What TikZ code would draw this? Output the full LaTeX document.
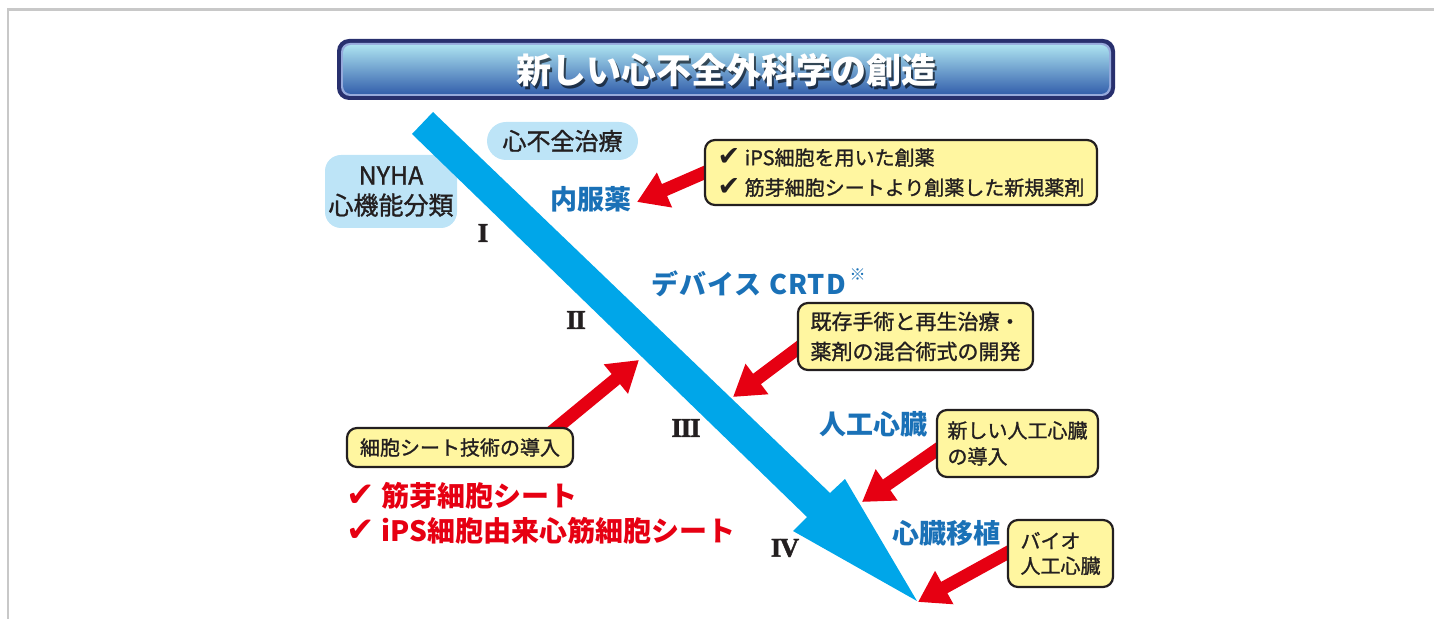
\documentclass[tikz,border=0pt]{standalone}
\usepackage{fontspec}
\setmainfont{Noto Sans CJK JP}
\newfontfamily\jpm[FakeBold=1.2]{Noto Sans CJK JP}
\newfontfamily\chk{DejaVu Sans}
\newfontfamily\numfont[FakeBold=1.5]{Liberation Serif}
\usetikzlibrary{arrows.meta,calc}
\definecolor{cyanA}{RGB}{0,166,233}
\definecolor{lightblueA}{RGB}{189,228,247}
\definecolor{labelblue}{RGB}{26,113,183}
\definecolor{redA}{RGB}{230,0,18}
\definecolor{yellowA}{RGB}{255,246,160}
\definecolor{ink}{RGB}{35,31,32}
\definecolor{navyA}{RGB}{40,48,110}
\definecolor{ringA}{RGB}{150,170,220}
\definecolor{framegray}{RGB}{200,200,200}
\pgfdeclarelayer{bg}
\pgfdeclarelayer{mid}
\pgfsetlayers{bg,mid,main}
\newcommand{\ck}{{\chk\bfseries\fontsize{13.5}{12}\selectfont ✔}}
\newcommand{\ckb}{{\chk\bfseries\fontsize{17}{12}\selectfont ✔}}
\tikzset{
  ybox/.style={draw=ink, line width=1.1pt, fill=yellowA, rounded corners=5pt, inner sep=0pt, align=left, text=ink},
  lbbox/.style={fill=lightblueA, inner sep=0pt, align=center, text=ink},
  blabel/.style={text=labelblue, font=\bfseries\fontsize{13.5}{16}\selectfont, inner sep=0pt},
  numeral/.style={text=ink, font=\numfont\bfseries\fontsize{13.5}{15}\selectfont, inner sep=0pt},
  redarrow/.style={draw=redA, line width=6.5pt, -{Triangle[length=15pt,width=18pt]}},
  redlist/.style={text=redA, font=\bfseries\fontsize{14}{17.5}\selectfont, inner sep=0pt, anchor=west}
}
\begin{document}
\begin{tikzpicture}[x=0.5pt,y=-0.5pt]
\useasboundingbox (0,0) rectangle (1434,619);
% frame
\draw[framegray, line width=1.2pt] (8,619) -- (8,9.5) -- (1434,9.5);
% title bar
\fill[navyA, rounded corners=6pt] (337,39) rectangle (1115,100);
\fill[ringA, rounded corners=4.5pt] (341,43) rectangle (1111,96);
\shade[top color={rgb,255:red,172;green,226;blue,240}, middle color={rgb,255:red,78;green,140;blue,202}, bottom color={rgb,255:red,52;green,96;blue,172}, rounded corners=4pt] (343,45) rectangle (1109,94);
\node[text=black, opacity=0.6, font=\bfseries\fontsize{17.5}{20}\selectfont] (titleshadow) at (728.5,73) {新しい心不全外科学の創造};
\node[text=white, font=\bfseries\fontsize{17.5}{20}\selectfont] (title) at (726,70) {新しい心不全外科学の創造};
% light blue boxes and big arrow (background)
\begin{pgfonlayer}{bg}
\node[lbbox, rounded corners=9.5pt, minimum width=75.5pt, minimum height=19pt, font=\jpm\fontsize{12}{14}\selectfont] (pill) at (562.5,141) {心不全治療};
\node[lbbox, rounded corners=8pt, minimum width=66pt, minimum height=36.5pt, font=\jpm\fontsize{12.5}{15}\selectfont] (nyha) at (391,191.5) {NYHA\\心機能分類};
\fill[cyanA] (433,112) -- (830,493) -- (845,479) -- (917,601) -- (793,531) -- (807,517) -- (412,134) -- cycle;
\end{pgfonlayer}
% numerals
\node[numeral] (n1) at (483,233) {I};
\node[numeral] (n2) at (576,320) {I\kern-0.6ptI};
\node[numeral] (n3) at (686,428) {I\kern-0.6ptI\kern-0.6ptI};
\node[numeral] (n4) at (785,548) {I\kern-0.8ptV};
% blue labels
\node[blabel] (naifuku) at (591,199) {内服薬};
\node[blabel, anchor=west, font=\bfseries\fontsize{13.5}{16}\selectfont\addfontfeature{LetterSpace=4}] (crtd) at (651,284) {デバイス CRTD};
\node[text=labelblue, font=\fontsize{8}{8}\selectfont, inner sep=0pt, anchor=north west] (kome) at ($(crtd.north east)+(3,-2)$) {※};
\node[blabel] (jinko) at (873,424) {人工心臓};
\node[blabel] (ishoku) at (946,533) {心臓移植};
% yellow boxes
\node[ybox, minimum width=196pt, minimum height=32.5pt, font=\jpm\fontsize{10}{15}\selectfont] (b1) at (901,172.5) {\ck\ iPS細胞を用いた創薬\\\ck\ 筋芽細胞シートより創薬した新規薬剤};
\node[ybox, minimum width=117.5pt, minimum height=33.5pt, font=\jpm\fontsize{10.5}{15}\selectfont] (b2) at (915.5,336.5) {既存手術と再生治療・\\薬剤の混合術式の開発};
\node[ybox, minimum width=80.5pt, minimum height=33.5pt, font=\jpm\fontsize{10}{13}\selectfont] (b3) at (1017.5,443.5) {新しい人工心臓\\の導入};
\node[ybox, minimum width=52.5pt, minimum height=33.5pt, font=\jpm\fontsize{10}{12.5}\selectfont] (b4) at (1060.5,553.5) {バイオ\\人工心臓};
\node[ybox, minimum width=113pt, minimum height=19.5pt, font=\jpm\fontsize{10}{12}\selectfont, align=center] (b5) at (460,447.5) {細胞シート技術の導入};
% arrow tips
\coordinate (tA) at (637,202);
\coordinate (tB) at (733,397);
\coordinate (tC) at (639,360);
\coordinate (tD) at (862,502);
\coordinate (tE) at (918,602);
\begin{pgfonlayer}{mid}
\draw[redarrow] ($(b1.west)+(10,-4)$) -- (tA);
\draw[redarrow] ($(b2.west)+(10,5)$) -- (tB);
\draw[redarrow] ($(b5.north east)+(-26,8)$) -- (tC);
\draw[redarrow] ($(b3.west)+(10,0)$) -- (tD);
\draw[redarrow] ($(b4.west)+(10,-6)$) -- (tE);
\end{pgfonlayer}
% red list
\node[redlist] (r1) at (346,496) {\ckb\ 筋芽細胞シート};
\node[redlist] (r2) at (346,531) {\ckb\ iPS細胞由来心筋細胞シート};
\end{tikzpicture}
\end{document}
